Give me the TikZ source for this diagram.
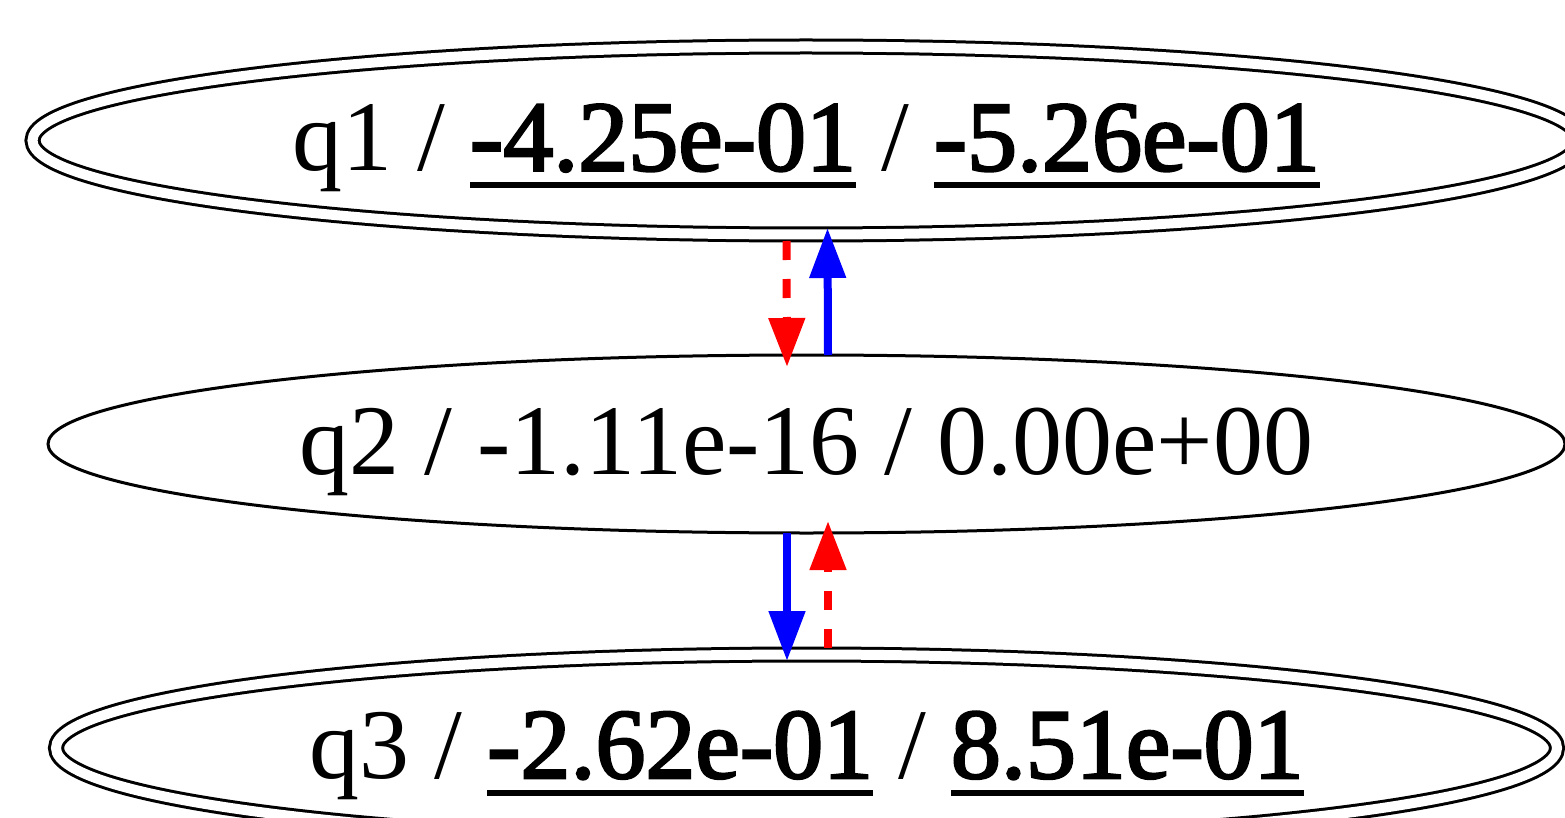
\documentclass[tikz,border=0pt]{standalone}
\usepackage{fontspec}
\setmainfont{Liberation Serif}
\newfontfamily\gvbold[FakeBold=2.5]{Liberation Serif}
\usetikzlibrary{arrows.meta,shapes.geometric,calc}
\newcommand\gvul[1]{\setbox0\hbox{\gvbold #1}\rlap{\rule[-18pt]{\wd0}{6pt}}\box0\relax}
\begin{document}
\begin{tikzpicture}[x=1pt,y=-1pt,
  statebox/.style={ellipse,draw=black,line width=3pt,inner sep=0pt,outer sep=0pt,
    text height=70pt,text depth=10pt,font=\fontsize{100}{120}\selectfont},
  finalbox/.style={statebox,double=white,double distance=10pt},
  redarr/.style={draw=red,line width=8pt,dash pattern=on 19pt off 19pt,
    -{Triangle[length=49pt,width=35pt,fill=red]}},
  bluearr/.style={draw=blue,line width=8pt,
    -{Triangle[length=50pt,width=35pt,fill=blue]}}]
\useasboundingbox (0,0) rectangle (1565,818);
\clip (0,0) rectangle (1565,818);
\node[finalbox,minimum width=1547pt,minimum height=188pt] (q1) at (806,140.5)
  {q1 / \gvul{-4.25e-01} / \gvul{-5.26e-01}};
\node[statebox,minimum width=1517pt,minimum height=178pt] (q2) at (806.5,444)
  {q2 / -1.11e-16 / 0.00e+00};
\node[finalbox,minimum width=1501pt,minimum height=187pt] (q3) at (806.5,748)
  {q3 / \gvul{-2.62e-01} / \gvul{8.51e-01}};
\draw[redarr] ([xshift=-19.5pt,yshift=-6.5pt]q1.south) -- ([xshift=-19.5pt,yshift=-12pt]q2.north);
\draw[bluearr] ([xshift=21.5pt]q2.north) -- ([xshift=21.5pt,yshift=6.5pt]q1.south);
\draw[bluearr] ([xshift=-19.5pt]q2.south) -- ([xshift=-19.5pt,yshift=-6.5pt]q3.north);
\draw[redarr] ([xshift=21.5pt,yshift=6.5pt]q3.north) -- ([xshift=21.5pt,yshift=12pt]q2.south);
\end{tikzpicture}
\end{document}
